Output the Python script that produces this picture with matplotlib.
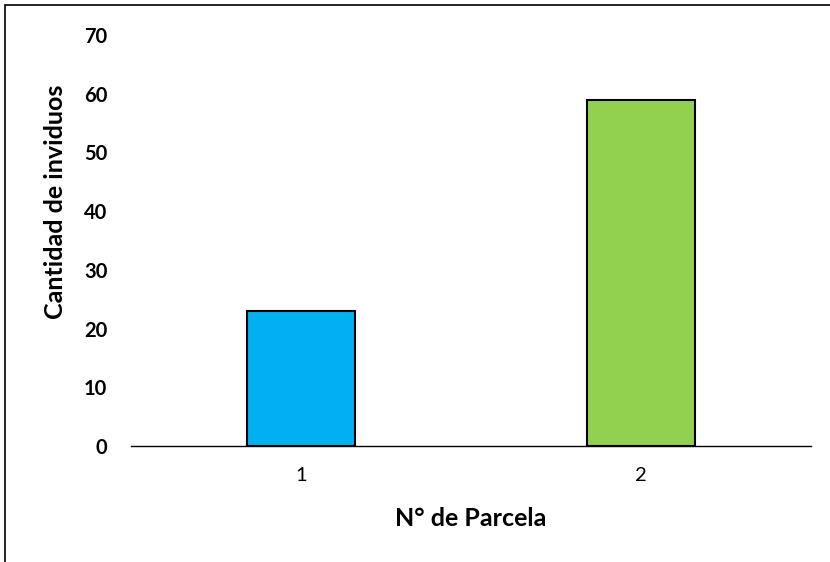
import matplotlib.pyplot as plt
from matplotlib.patches import Rectangle

# datos del grafico
parcelas = ['1', '2']
individuos = [23, 59]
colores = ['#00B0F0', '#92D050']

plt.rcParams['font.family'] = ['Lato', 'DejaVu Sans']

W, H = 830, 562
fig = plt.figure(figsize=(W/100, H/100), dpi=100)
ax = fig.add_axes([131/W, 1-446/H, 680/W, 411/H])

pos = [1, 2]
ax.bar(pos, individuos, width=0.315, color=colores, edgecolor='black', linewidth=1.5, zorder=3)

ax.set_xlim(0.5, 2.5)
ax.set_ylim(0, 70)
ax.set_yticks(range(0, 71, 10))
ax.set_xticks(pos)
ax.set_xticklabels(parcelas, fontsize=14.5)
for lab in ax.get_yticklabels():
    lab.set_fontweight('bold')
    lab.set_fontsize(14.5)
ax.tick_params(axis='both', length=0)
ax.tick_params(axis='y', pad=17)
ax.tick_params(axis='x', pad=15)

for s in ['top', 'right', 'left']:
    ax.spines[s].set_visible(False)
ax.spines['bottom'].set_linewidth(1.0)

# titulos de los ejes
fig.text(55/W, 1-202/H, 'Cantidad de inviduos', rotation=90, ha='center', va='center',
         fontsize=18, fontweight='bold')
fig.text(471/W, 1-518/H, 'N° de Parcela', ha='center', va='center',
         fontsize=18, fontweight='bold')

# borde del area del grafico
borde = Rectangle((5/W, -0.1), 1.1, 1.1 - 5/H, transform=fig.transFigure,
                  fill=False, edgecolor='black', linewidth=1.2)
fig.patches.append(borde)

plt.savefig('out.png', dpi=100)
plt.close()
